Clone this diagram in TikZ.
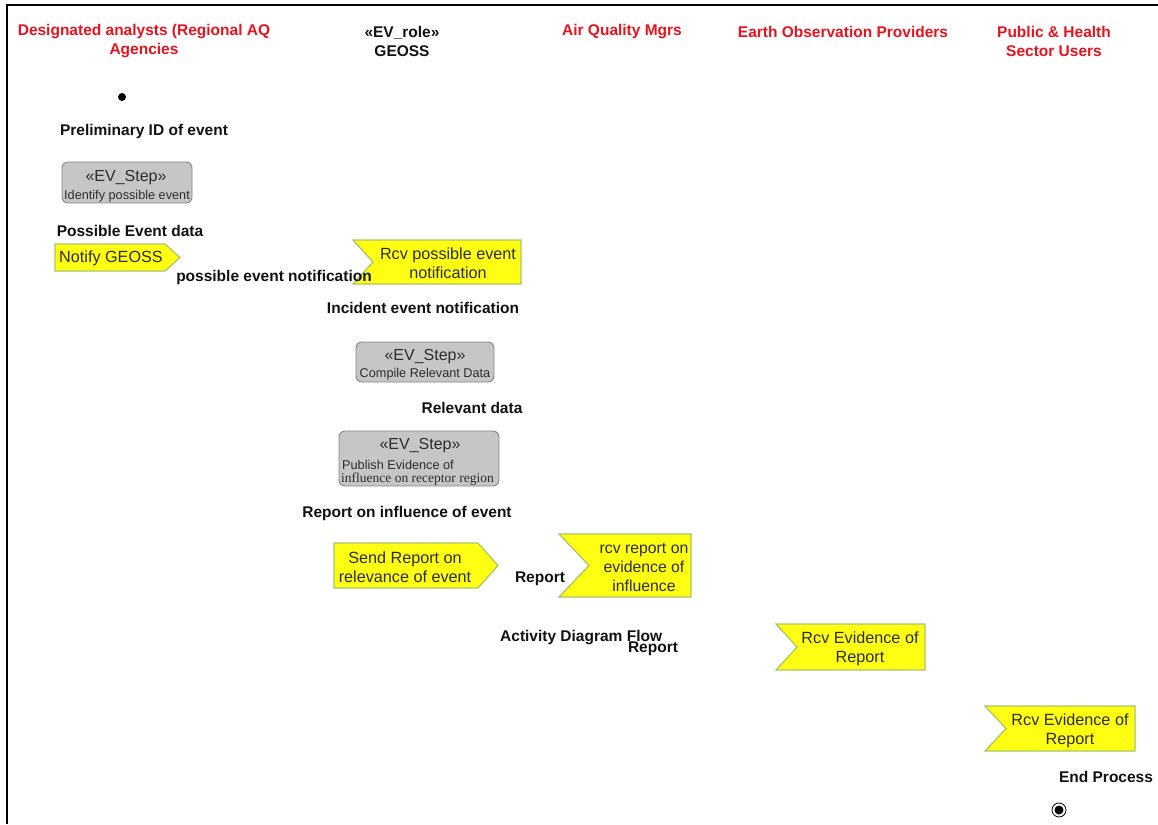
\documentclass[tikz,border=0pt]{standalone}
\usepackage{fontspec}
\setmainfont{Liberation Sans}
\newfontfamily\serifsmall{Liberation Serif}
\begin{document}
\begin{tikzpicture}[x=1pt,y=-1pt,
  lane/.style={font=\fontsize{15.5}{19}\selectfont\bfseries, text=lanered, align=center, inner sep=0pt, yshift=-1.5pt},
  lbl/.style={font=\fontsize{15.5}{19}\selectfont\bfseries, text=ink, inner sep=0pt, yshift=-1.5pt},
  sigtext/.style={font=\fontsize{16.2}{19}\selectfont, text=sigink, align=center, inner sep=0pt, yshift=-1.5pt},
  steptitle/.style={font=\fontsize{16}{19}\selectfont, text=sigink, inner sep=0pt, yshift=-1.5pt},
  stepsub/.style={font=\fontsize{12.7}{14}\selectfont, text=sigink, inner sep=0pt, yshift=-1pt},
  stepbox/.style={draw=stepedge, fill=stepfill, rounded corners=6pt, line width=0.9pt},
  sigshape/.style={draw=sigedge, fill=sigfill, line width=1.2pt, line join=miter}
]
\definecolor{lanered}{RGB}{232,18,30}
\definecolor{ink}{RGB}{17,17,17}
\definecolor{sigink}{RGB}{45,45,40}
\definecolor{sigfill}{RGB}{255,255,20}
\definecolor{sigedge}{RGB}{170,196,100}
\definecolor{stepfill}{RGB}{198,198,198}
\definecolor{stepedge}{RGB}{135,135,135}

\useasboundingbox (0,0) rectangle (1158,824);

% outer frame (top and left edges)
\draw[line width=2.5pt, black] (1158,5) -- (7,5) -- (7,824);

% swimlane headers
\node[lane] (laneDA) at (144,39.5) {Designated analysts (Regional AQ\\Agencies};
\node[lane, text=ink] (laneGEOSS) at (402,40) {«EV\_role»\\GEOSS};
\node[lane] (laneAQ) at (622,30) {Air Quality Mgrs};
\node[lane] (laneEO) at (843,30) {Earth Observation Providers};
\node[lane] (lanePH) at (1054,39.5) {Public \& Health\\Sector Users};

% initial node
\fill[black] (122,97) circle (4);
\node[lbl] (prelim) at (144,130) {Preliminary ID of event};

% step: identify possible event
\path[stepbox] (62,162) rectangle (192,203);
\node[steptitle] (s1title) at (126,176) {«EV\_Step»};
\node[stepsub] (s1sub) at (127,195) {Identify possible event};

\node[lbl] (posdata) at (130,229) {Possible Event data};

% send signal: Notify GEOSS
\draw[sigshape] (55,244) -- (165,244) -- (180,257.5) -- (165,271) -- (55,271) -- cycle;
\node[sigtext, anchor=west] (notify) at (59,257) {Notify GEOSS};

% accept signal: Rcv possible event notification
\draw[sigshape] (353,240) -- (521,240) -- (521,284) -- (353,284) -- (373,262) -- cycle;
\node[sigtext] (rcvpos) at (448,262) {Rcv possible event\\notification};

% object flow label, printed over the accept signal
\node[lbl] (penot) at (274,276) {possible event notification};

\node[lbl] (incident) at (423,306) {Incident event notification};

% step: compile relevant data
\path[stepbox] (356,342) rectangle (494,382);
\node[steptitle] (s2title) at (425,355) {«EV\_Step»};
\node[stepsub] (s2sub) at (425,373) {Compile Relevant Data};

\node[lbl] (reldata) at (472,406) {Relevant data};

% step: publish evidence
\path[stepbox] (339,431) rectangle (499,486);
\node[steptitle] (s3title) at (420,444) {«EV\_Step»};
\node[stepsub, anchor=west] (s3sub) at (342,464) {Publish Evidence of};
\node[stepsub, anchor=west, font=\fontsize{13.5}{14}\serifsmall] (s3sub2) at (341,478) {influence on receptor region};

\node[lbl] (reportinf) at (407,512) {Report on influence of event};

% send signal: Send Report
\draw[sigshape] (334,543) -- (478,543) -- (498,565.5) -- (478,588) -- (334,588) -- cycle;
\node[sigtext] (sendrep) at (405,565.5) {Send Report on\\relevance of event};

\node[lbl] (report1) at (540,577) {Report};

% accept signal: rcv report on evidence of influence
\draw[sigshape] (559,534) -- (691,534) -- (691,597) -- (559,597) -- (589,565.5) -- cycle;
\node[sigtext, font=\fontsize{15.8}{19}\selectfont] (rcvrep) at (644,566) {rcv report on\\evidence of\\influence};

\node[lbl, anchor=west] (adf) at (500,636) {Activity Diagram Flow};
\node[lbl] (report2) at (653,647) {Report};

% accept signal: Rcv Evidence of Report (EO providers)
\draw[sigshape] (776,624) -- (925,624) -- (925,670) -- (776,670) -- (797,647) -- cycle;
\node[sigtext] (rcvev1) at (860,647.5) {Rcv Evidence of\\Report};

% accept signal: Rcv Evidence of Report (public users)
\draw[sigshape] (985,706) -- (1135,706) -- (1135,751) -- (985,751) -- (1006,728.5) -- cycle;
\node[sigtext] (rcvev2) at (1070,729) {Rcv Evidence of\\Report};

\node[lbl] (endp) at (1106,775) {End Process};

% final node
\draw[black, line width=0.8pt] (1059,810) circle (7);
\fill[black] (1059,810) circle (4.5);
\end{tikzpicture}
\end{document}
